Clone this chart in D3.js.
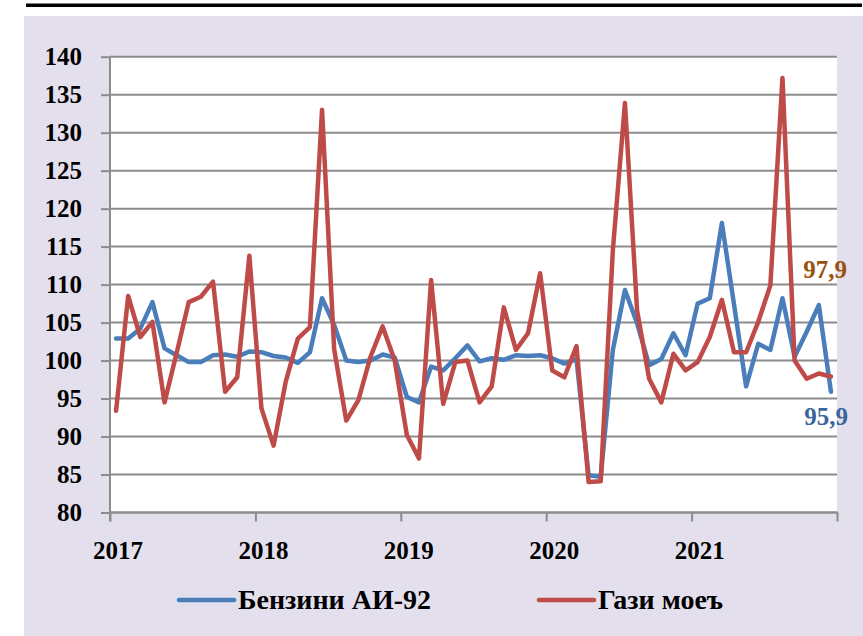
<!DOCTYPE html>
<html>
<head>
<meta charset="utf-8">
<script src="https://cdn.jsdelivr.net/npm/d3@7"></script>
<style>
  body { margin: 0; background: #fff; }
  svg { display: block; }
</style>
</head>
<body>
<svg id="chart" width="863" height="636"></svg>
<script>
// monthly data, Jan 2017 .. Dec 2021
const years = ['2017', '2018', '2019', '2020', '2021'];

const benzin = [
  102.9, 102.9, 104.2, 107.7, 101.6, 100.7, 99.8, 99.8, 100.7, 100.8, 100.5, 101.2,
  101.1, 100.6, 100.4, 99.7, 101.1, 108.2, 104.7, 100.0, 99.8, 100.0, 100.8, 100.4,
  95.2, 94.5, 99.2, 98.7, 100.3, 102.0, 99.9, 100.3, 100.1, 100.7, 100.6, 100.7,
  100.3, 99.6, 100.2, 84.9, 84.7, 101.4, 109.3, 104.9, 99.4, 100.2, 103.6, 100.7,
  107.5, 108.2, 118.1, 107.4, 96.6, 102.2, 101.4, 108.2, 100.5, 103.8, 107.3, 95.9,
];

const gazi = [
  93.4, 108.5, 103.1, 105.1, 94.5, 101.0, 107.7, 108.4, 110.4, 95.9, 97.8, 113.8,
  93.7, 88.8, 97.2, 102.9, 104.4, 133.0, 101.5, 92.1, 94.8, 100.5, 104.5, 100.0,
  90.2, 87.1, 110.6, 94.3, 99.8, 100.0, 94.5, 96.6, 107.0, 101.4, 103.6, 111.5,
  98.7, 97.8, 101.9, 84.0, 84.1, 114.5, 133.9, 106.6, 97.6, 94.5, 100.9, 98.7,
  99.8, 103.1, 108.0, 101.1, 101.1, 105.1, 109.9, 137.2, 100.0, 97.6, 98.3, 97.9,
];

const yTicks = [80, 85, 90, 95, 100, 105, 110, 115, 120, 125, 130, 135, 140];

const series = [
  { name: 'Бензини АИ-92', values: benzin, color: '#4a7ebb' },
  { name: 'Гази моеъ', values: gazi, color: '#be4b48' },
];

const font = "'Liberation Serif', 'Palatino Linotype', serif";
const plot = { left: 110, right: 837, top: 56.7, bottom: 512.5 };

const svg = d3.select('#chart');

// lavender panel and top rule
svg.append('rect')
  .attr('x', 24).attr('y', 16)
  .attr('width', 839).attr('height', 620)
  .attr('fill', '#e4dfec');
svg.append('rect')
  .attr('x', 26).attr('y', 3.5)
  .attr('width', 836).attr('height', 3.5)
  .attr('fill', '#000');

svg.append('rect')
  .attr('x', plot.left).attr('y', plot.top)
  .attr('width', plot.right - plot.left).attr('height', plot.bottom - plot.top)
  .attr('fill', '#fff');

const n = benzin.length;
const x = d3.scaleLinear().domain([0, n]).range([plot.left, plot.right]);
const y = d3.scaleLinear().domain([80, 140]).range([plot.bottom, plot.top]);

// gridlines
svg.append('g')
  .selectAll('line')
  .data(yTicks)
  .join('line')
  .attr('x1', plot.left).attr('x2', plot.right)
  .attr('y1', d => y(d)).attr('y2', d => y(d))
  .attr('stroke', '#8c8c8c')
  .attr('stroke-width', 2);

// y axis
const yAxis = svg.append('g')
  .attr('transform', `translate(${plot.left},0)`)
  .call(d3.axisLeft(y).tickValues(yTicks).tickSize(9).tickPadding(19));
yAxis.select('.domain').remove();
yAxis.selectAll('.tick line').attr('stroke', '#8c8c8c').attr('stroke-width', 2);
yAxis.selectAll('.tick text')
  .attr('fill', '#000')
  .style('font', `bold 25px ${font}`);
svg.append('line')
  .attr('x1', plot.left).attr('x2', plot.left)
  .attr('y1', plot.top).attr('y2', plot.bottom + 9)
  .attr('stroke', '#8c8c8c').attr('stroke-width', 2);

// x axis
const xAxis = svg.append('g')
  .attr('transform', `translate(0,${plot.bottom})`)
  .call(d3.axisBottom(x).tickValues(d3.range(0, n + 1, 12)).tickSize(9).tickFormat(''));
xAxis.select('.domain').remove();
xAxis.selectAll('.tick line').attr('stroke', '#8c8c8c').attr('stroke-width', 2);
svg.append('line')
  .attr('x1', plot.left).attr('x2', plot.right + 1)
  .attr('y1', plot.bottom).attr('y2', plot.bottom)
  .attr('stroke', '#8c8c8c').attr('stroke-width', 2);

svg.append('g')
  .selectAll('text')
  .data(years)
  .join('text')
  .attr('x', (d, i) => x(i * 12 + 0.5) + 2)
  .attr('y', 559)
  .attr('text-anchor', 'middle')
  .style('font', `bold 25px ${font}`)
  .text(d => d);

// lines
const line = d3.line()
  .x((d, i) => x(i + 0.5))
  .y(d => y(d));

svg.append('g')
  .selectAll('path')
  .data(series)
  .join('path')
  .attr('d', d => line(d.values))
  .attr('fill', 'none')
  .attr('stroke', d => d.color)
  .attr('stroke-width', 4.5)
  .attr('stroke-linejoin', 'round')
  .attr('stroke-linecap', 'round');

// end labels
const fmt = v => String(v).replace('.', ',');
svg.append('text')
  .attr('x', 847).attr('y', 278)
  .attr('text-anchor', 'end')
  .attr('fill', '#9a5110')
  .style('font', `bold 25px ${font}`)
  .text(fmt(gazi[n - 1]));
svg.append('text')
  .attr('x', 848).attr('y', 425)
  .attr('text-anchor', 'end')
  .attr('fill', '#3b659d')
  .style('font', `bold 25px ${font}`)
  .text(fmt(benzin[n - 1]));

// legend
const legendX = [179, 539];
const legend = svg.append('g')
  .selectAll('g')
  .data(series)
  .join('g')
  .attr('transform', (d, i) => `translate(${legendX[i]},600)`);
legend.append('line')
  .attr('x1', 0).attr('x2', 55)
  .attr('stroke', d => d.color)
  .attr('stroke-width', 4.5)
  .attr('stroke-linecap', 'round');
legend.append('text')
  .attr('x', 59).attr('y', 9)
  .style('font', `bold 28px ${font}`)
  .text(d => d.name);
</script>
</body>
</html>
